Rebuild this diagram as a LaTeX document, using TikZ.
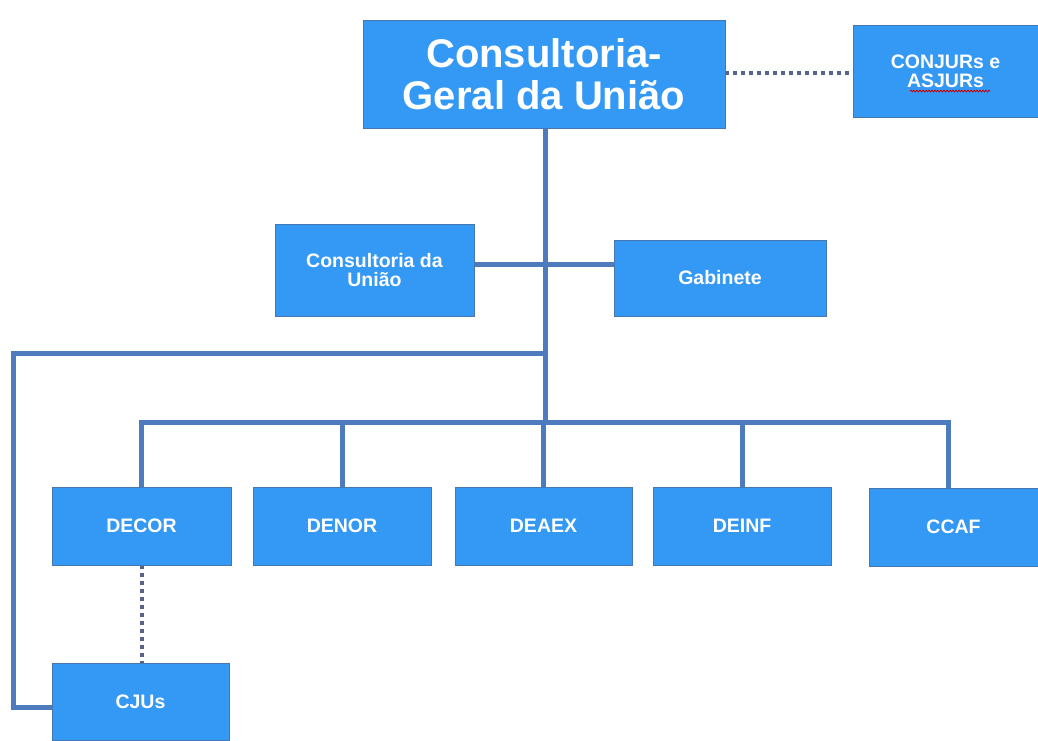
\documentclass[tikz,border=0pt]{standalone}
\usepackage{fontspec}
\setmainfont{Liberation Sans}
\usetikzlibrary{decorations.pathmorphing,backgrounds}
\definecolor{boxblue}{RGB}{52,152,245}
\definecolor{boxedge}{RGB}{70,120,175}
\definecolor{linkblue}{RGB}{78,122,190}
\definecolor{dotgray}{RGB}{88,100,135}
\begin{document}
\begin{tikzpicture}[x=1pt,y=-1pt,
  orgbox/.style={fill=boxblue, draw=boxedge, line width=0.6pt, text=white,
    font=\bfseries\fontsize{19.5}{19}\selectfont, align=center, inner sep=0pt},
  link/.style={draw=linkblue, line width=5pt},
  dotlink/.style={draw=dotgray, line width=4pt, dash pattern=on 4pt off 4pt}]
\useasboundingbox (0,0) rectangle (1038,740);
% coordinates
\coordinate (lvl) at (0,264);
\coordinate (busmid) at (545,422);
\coordinate (loop) at (545,353);
\coordinate (lc1) at (13,353);
\coordinate (lc2) at (13,707);
\coordinate (cgudot) at (725,73);
% nodes
\node[orgbox, minimum width=362, minimum height=108, font=\bfseries\fontsize{40}{42}\selectfont] (cgu) at (544,74) {Consultoria-\\Geral da União};
\node[orgbox, minimum width=185, minimum height=92] (conj) at (945.5,71) {CONJURs e\\ASJURs};
\node[orgbox, minimum width=199, minimum height=92] (cdu) at (374.5,270) {Consultoria da\\União};
\node[orgbox, minimum width=212, minimum height=76] (gab) at (720,278) {Gabinete};
\node[orgbox, minimum width=179, minimum height=78] (decor) at (141.5,526) {DECOR};
\node[orgbox, minimum width=178, minimum height=78] (denor) at (342,526) {DENOR};
\node[orgbox, minimum width=177, minimum height=78] (deaex) at (543.5,526) {DEAEX};
\node[orgbox, minimum width=178, minimum height=78] (deinf) at (742,526) {DEINF};
\node[orgbox, minimum width=169, minimum height=78] (ccaf) at (953.5,527) {CCAF};
\node[orgbox, minimum width=177, minimum height=77] (cjus) at (140.5,701.5) {CJUs};
% spell-check squiggle under ASJURs
\draw[red!80!black, line width=0.8pt, decorate, decoration={snake, segment length=3pt, amplitude=0.8pt}] (910,91) -- (990,91);
\begin{scope}[on background layer]
\fill[white] (0,0) rectangle (1038,740);
\draw[link] ([xshift=1pt]cgu.south) -- (busmid);
\draw[link] (cdu.east |- lvl) -- (gab.west |- lvl);
\draw[link] (loop) -- (lc1) -- (lc2) -- (cjus.west |- lc2);
\draw[link] (busmid) -| (decor.north);
\draw[link] (busmid) -| (denor.north);
\draw[link] (busmid) -- (deaex.north |- busmid) -- (deaex.north);
\draw[link] (busmid) -| (deinf.north);
\draw[link] (busmid) -| ([xshift=-5pt]ccaf.north);
\draw[dotlink] (cgu.east |- cgudot) -- (conj.west |- cgudot);
\draw[dotlink] (decor.south) -- (decor.south |- cjus.north);
\end{scope}
\end{tikzpicture}
\end{document}
